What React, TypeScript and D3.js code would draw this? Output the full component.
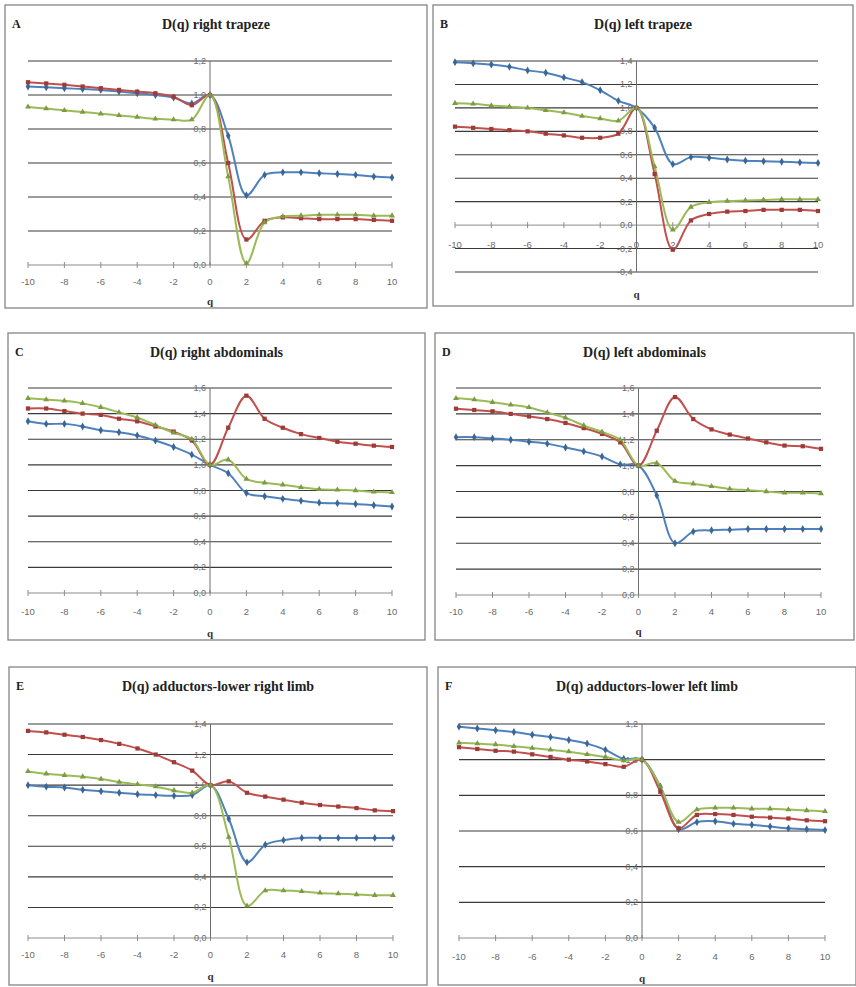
import React, { useEffect, useRef } from 'react';
import * as d3 from 'd3';

// q values (x) shared by every panel
const qValues = [-10, -9, -8, -7, -6, -5, -4, -3, -2, -1, 0, 1, 2, 3, 4, 5, 6, 7, 8, 9, 10];
const xTickValues = [-10, -8, -6, -4, -2, 0, 2, 4, 6, 8, 10];

// A - right trapeze
const blueA = [1.05, 1.045, 1.04, 1.035, 1.03, 1.02, 1.01, 1.0, 0.985, 0.95, 1.0, 0.76, 0.41, 0.53, 0.545, 0.545, 0.54, 0.535, 0.53, 0.52, 0.515];
const redA = [1.075, 1.068, 1.06, 1.05, 1.04, 1.03, 1.02, 1.01, 0.99, 0.94, 1.0, 0.6, 0.15, 0.26, 0.28, 0.275, 0.27, 0.27, 0.27, 0.265, 0.26];
const greenA = [0.93, 0.92, 0.91, 0.9, 0.89, 0.88, 0.87, 0.86, 0.855, 0.855, 1.0, 0.52, 0.01, 0.25, 0.285, 0.29, 0.295, 0.295, 0.295, 0.29, 0.29];

// B - left trapeze
const blueB = [1.39, 1.38, 1.37, 1.35, 1.32, 1.3, 1.26, 1.22, 1.15, 1.06, 1.0, 0.83, 0.52, 0.58, 0.575, 0.56, 0.55, 0.545, 0.54, 0.535, 0.53];
const redB = [0.84, 0.83, 0.82, 0.81, 0.8, 0.78, 0.765, 0.745, 0.745, 0.78, 1.0, 0.435, -0.21, 0.04, 0.095, 0.115, 0.12, 0.13, 0.13, 0.13, 0.12];
const greenB = [1.04, 1.035, 1.02, 1.01, 1.0, 0.98, 0.96, 0.93, 0.91, 0.89, 1.0, 0.5, -0.04, 0.155, 0.195, 0.205, 0.21, 0.215, 0.22, 0.22, 0.22];

// C - right abdominals
const blueC = [1.34, 1.32, 1.32, 1.3, 1.27, 1.255, 1.23, 1.19, 1.14, 1.08, 1.0, 0.935, 0.78, 0.755, 0.735, 0.72, 0.705, 0.7, 0.695, 0.685, 0.675];
const redC = [1.44, 1.44, 1.42, 1.4, 1.39, 1.36, 1.34, 1.3, 1.26, 1.19, 1.0, 1.29, 1.54, 1.36, 1.29, 1.24, 1.21, 1.18, 1.165, 1.15, 1.14];
const greenC = [1.52, 1.51, 1.5, 1.48, 1.45, 1.41, 1.37, 1.31, 1.25, 1.2, 1.0, 1.04, 0.89, 0.86, 0.845, 0.825, 0.81, 0.805, 0.8, 0.79, 0.785];

// D - left abdominals
const blueD = [1.22, 1.22, 1.21, 1.2, 1.185, 1.17, 1.14, 1.11, 1.07, 1.01, 1.0, 0.77, 0.4, 0.49, 0.5, 0.505, 0.51, 0.51, 0.51, 0.51, 0.51];
const redD = [1.44, 1.43, 1.42, 1.4, 1.38, 1.36, 1.33, 1.29, 1.245, 1.18, 1.0, 1.27, 1.53, 1.36, 1.28, 1.24, 1.21, 1.18, 1.155, 1.15, 1.13];
const greenD = [1.52, 1.51, 1.49, 1.47, 1.45, 1.41, 1.37, 1.31, 1.26, 1.2, 1.0, 1.02, 0.88, 0.86, 0.84, 0.82, 0.81, 0.8, 0.79, 0.79, 0.785];

// E - adductors lower right limb
const blueE = [1.0, 0.99, 0.985, 0.97, 0.96, 0.95, 0.94, 0.935, 0.93, 0.935, 1.0, 0.78, 0.495, 0.61, 0.64, 0.655, 0.655, 0.655, 0.655, 0.655, 0.655];
const redE = [1.355, 1.345, 1.33, 1.315, 1.295, 1.27, 1.24, 1.2, 1.15, 1.095, 1.0, 1.025, 0.95, 0.925, 0.905, 0.885, 0.87, 0.86, 0.85, 0.835, 0.83];
const greenE = [1.09, 1.075, 1.065, 1.055, 1.04, 1.02, 1.005, 0.99, 0.965, 0.95, 1.0, 0.66, 0.21, 0.31, 0.31, 0.305, 0.295, 0.29, 0.285, 0.28, 0.28];

// F - adductors lower left limb
const blueF = [1.185, 1.175, 1.165, 1.155, 1.14, 1.127, 1.11, 1.09, 1.055, 1.005, 1.0, 0.85, 0.61, 0.65, 0.655, 0.64, 0.635, 0.625, 0.615, 0.61, 0.605];
const redF = [1.07, 1.06, 1.05, 1.045, 1.03, 1.015, 1.0, 0.99, 0.975, 0.96, 1.0, 0.82, 0.615, 0.69, 0.695, 0.69, 0.68, 0.675, 0.67, 0.66, 0.655];
const greenF = [1.095, 1.09, 1.085, 1.075, 1.065, 1.055, 1.045, 1.03, 1.015, 0.995, 1.0, 0.85, 0.65, 0.72, 0.73, 0.73, 0.725, 0.725, 0.72, 0.715, 0.71];

const yTicksA = [0, 0.2, 0.4, 0.6, 0.8, 1.0, 1.2];
const yTicksB = [-0.4, -0.2, 0, 0.2, 0.4, 0.6, 0.8, 1.0, 1.2, 1.4];
const yTicksC = [0, 0.2, 0.4, 0.6, 0.8, 1.0, 1.2, 1.4, 1.6];
const yTicksD = [0, 0.2, 0.4, 0.6, 0.8, 1.0, 1.2, 1.4, 1.6];
const yTicksE = [0, 0.2, 0.4, 0.6, 0.8, 1.0, 1.2, 1.4];
const yTicksF = [0, 0.2, 0.4, 0.6, 0.8, 1.0, 1.2];

const panelLetters = ['A', 'B', 'C', 'D', 'E', 'F'];
const panelTitles = [
    'D(q) right trapeze',
    'D(q) left trapeze',
    'D(q) right abdominals',
    'D(q) left abdominals',
    'D(q) adductors-lower right limb',
    'D(q) adductors-lower left limb',
];

const seriesColors = ['#4f81bd', '#c0504d', '#9bbb59'];
const markerColors = ['#3b6797', '#9c3c39', '#7c9b42'];

const panels = [
    { series: [blueA, redA, greenA], ticks: yTicksA },
    { series: [blueB, redB, greenB], ticks: yTicksB },
    { series: [blueC, redC, greenC], ticks: yTicksC },
    { series: [blueD, redD, greenD], ticks: yTicksD },
    { series: [blueE, redE, greenE], ticks: yTicksE },
    { series: [blueF, redF, greenF], ticks: yTicksF },
];

// page geometry of each panel: box [x, y, w, h], plot x range, y range (min -> max)
const layout = [
    { box: [5, 5, 422, 303], x: [28, 392], y: [265, 61], titleY: 29, tickY: 285, qY: 305 },
    { box: [433, 5, 420, 301], x: [455, 818], y: [272, 61], titleY: 29, tickY: 248, qY: 298 },
    { box: [8, 333, 417, 307], x: [28, 392], y: [593, 388], titleY: 357, tickY: 615, qY: 637 },
    { box: [435, 333, 419, 307], x: [456, 821], y: [595, 388], titleY: 357, tickY: 615, qY: 635 },
    { box: [9, 667, 418, 318], x: [28, 393], y: [938, 724], titleY: 691, tickY: 958, qY: 980 },
    { box: [438, 667, 418, 318], x: [459, 825], y: [938, 724], titleY: 691, tickY: 960, qY: 982 },
];

const symbols = [d3.symbolDiamond, d3.symbolSquare, d3.symbolTriangle];

function fmt(v: number) {
    return d3.format('.1f')(v).replace('.', ',').replace('−', '-');
}

export default function App() {
    const ref = useRef<SVGSVGElement>(null);

    useEffect(() => {
        const svg = d3.select(ref.current);
        svg.selectAll('*').remove();

        panels.forEach((panel, pi) => {
            const lay = layout[pi];
            const g = svg.append('g');
            const [bx, by, bw, bh] = lay.box;

            g.append('rect')
                .attr('x', bx).attr('y', by)
                .attr('width', bw).attr('height', bh)
                .attr('fill', '#fff')
                .attr('stroke', '#858585')
                .attr('stroke-width', 1.3);

            const scaleX = d3.scaleLinear().domain([-10, 10]).range(lay.x);
            const scaleY = d3.scaleLinear()
                .domain(d3.extent(panel.ticks) as [number, number])
                .range(lay.y);

            // grid lines
            g.append('g')
                .selectAll('line')
                .data(panel.ticks.filter(t => Math.abs(t) > 1e-9))
                .enter()
                    .append('line')
                    .attr('x1', lay.x[0]).attr('x2', lay.x[1])
                    .attr('y1', d => scaleY(d)).attr('y2', d => scaleY(d))
                    .attr('stroke', '#3a3a3a')
                    .attr('stroke-width', 1.1);

            // x axis at 0
            const x0 = scaleY(0);
            g.append('line')
                .attr('x1', lay.x[0]).attr('x2', lay.x[1])
                .attr('y1', x0).attr('y2', x0)
                .attr('stroke', '#8c8c8c');
            g.append('g')
                .selectAll('line')
                .data(xTickValues)
                .enter()
                    .append('line')
                    .attr('x1', d => scaleX(d)).attr('x2', d => scaleX(d))
                    .attr('y1', x0 - 3).attr('y2', x0 + 3)
                    .attr('stroke', '#8c8c8c');

            // y axis at q = 0
            const yAxisX = scaleX(0);
            g.append('line')
                .attr('x1', yAxisX).attr('x2', yAxisX)
                .attr('y1', lay.y[1]).attr('y2', lay.y[0])
                .attr('stroke', '#6e6e6e');

            g.append('g')
                .selectAll('text')
                .data(panel.ticks)
                .enter()
                    .append('text')
                    .attr('x', yAxisX - 4)
                    .attr('y', d => scaleY(d) + 3)
                    .attr('text-anchor', 'end')
                    .attr('font-family', 'Liberation Sans, Arial, sans-serif')
                    .attr('font-size', 9)
                    .attr('fill', '#6a6a6a')
                    .text(d => fmt(d));

            g.append('g')
                .selectAll('text')
                .data(xTickValues)
                .enter()
                    .append('text')
                    .attr('x', d => scaleX(d))
                    .attr('y', lay.tickY)
                    .attr('text-anchor', 'middle')
                    .attr('font-family', 'Liberation Sans, Arial, sans-serif')
                    .attr('font-size', 9.5)
                    .attr('fill', '#6a6a6a')
                    .text(d => String(d));

            g.append('text')
                .attr('x', yAxisX)
                .attr('y', lay.qY)
                .attr('text-anchor', 'middle')
                .attr('font-family', 'Liberation Serif, Times New Roman, serif')
                .attr('font-weight', 'bold')
                .attr('font-size', 11)
                .attr('fill', '#333')
                .text('q');

            // title + panel letter
            g.append('text')
                .attr('x', bx + bw / 2)
                .attr('y', lay.titleY)
                .attr('text-anchor', 'middle')
                .attr('font-family', 'Liberation Serif, Times New Roman, serif')
                .attr('font-weight', 'bold')
                .attr('font-size', 14)
                .attr('fill', '#222')
                .text(panelTitles[pi]);

            g.append('text')
                .attr('x', bx + 7)
                .attr('y', lay.titleY - 1)
                .attr('font-family', 'Liberation Serif, Times New Roman, serif')
                .attr('font-weight', 'bold')
                .attr('font-size', 12)
                .attr('fill', '#222')
                .text(panelLetters[pi]);

            // series
            const line = d3.line<number>()
                .x((d, i) => scaleX(qValues[i]))
                .y(d => scaleY(d))
                .curve(d3.curveCatmullRom.alpha(0.5));

            panel.series.forEach((values, si) => {
                g.append('path')
                    .datum(values)
                    .attr('d', line)
                    .attr('fill', 'none')
                    .attr('stroke', seriesColors[si])
                    .attr('stroke-width', 2);
            });

            panel.series.forEach((values, si) => {
                g.append('g')
                    .selectAll('path')
                    .data(values)
                    .enter()
                        .append('path')
                        .attr('d', d3.symbol().type(symbols[si]).size(si === 2 ? 15 : 18)())
                        .attr('transform', (d, i) => 'translate(' + scaleX(qValues[i]) + ',' + scaleY(d) + ')')
                        .attr('fill', markerColors[si]);
            });
        });
    }, []);

    return (
        <svg
            ref={ref}
            width={856}
            height={987}
            style={{ position: 'absolute', left: 0, top: 0, background: '#fff' }}
        />
    );
}
